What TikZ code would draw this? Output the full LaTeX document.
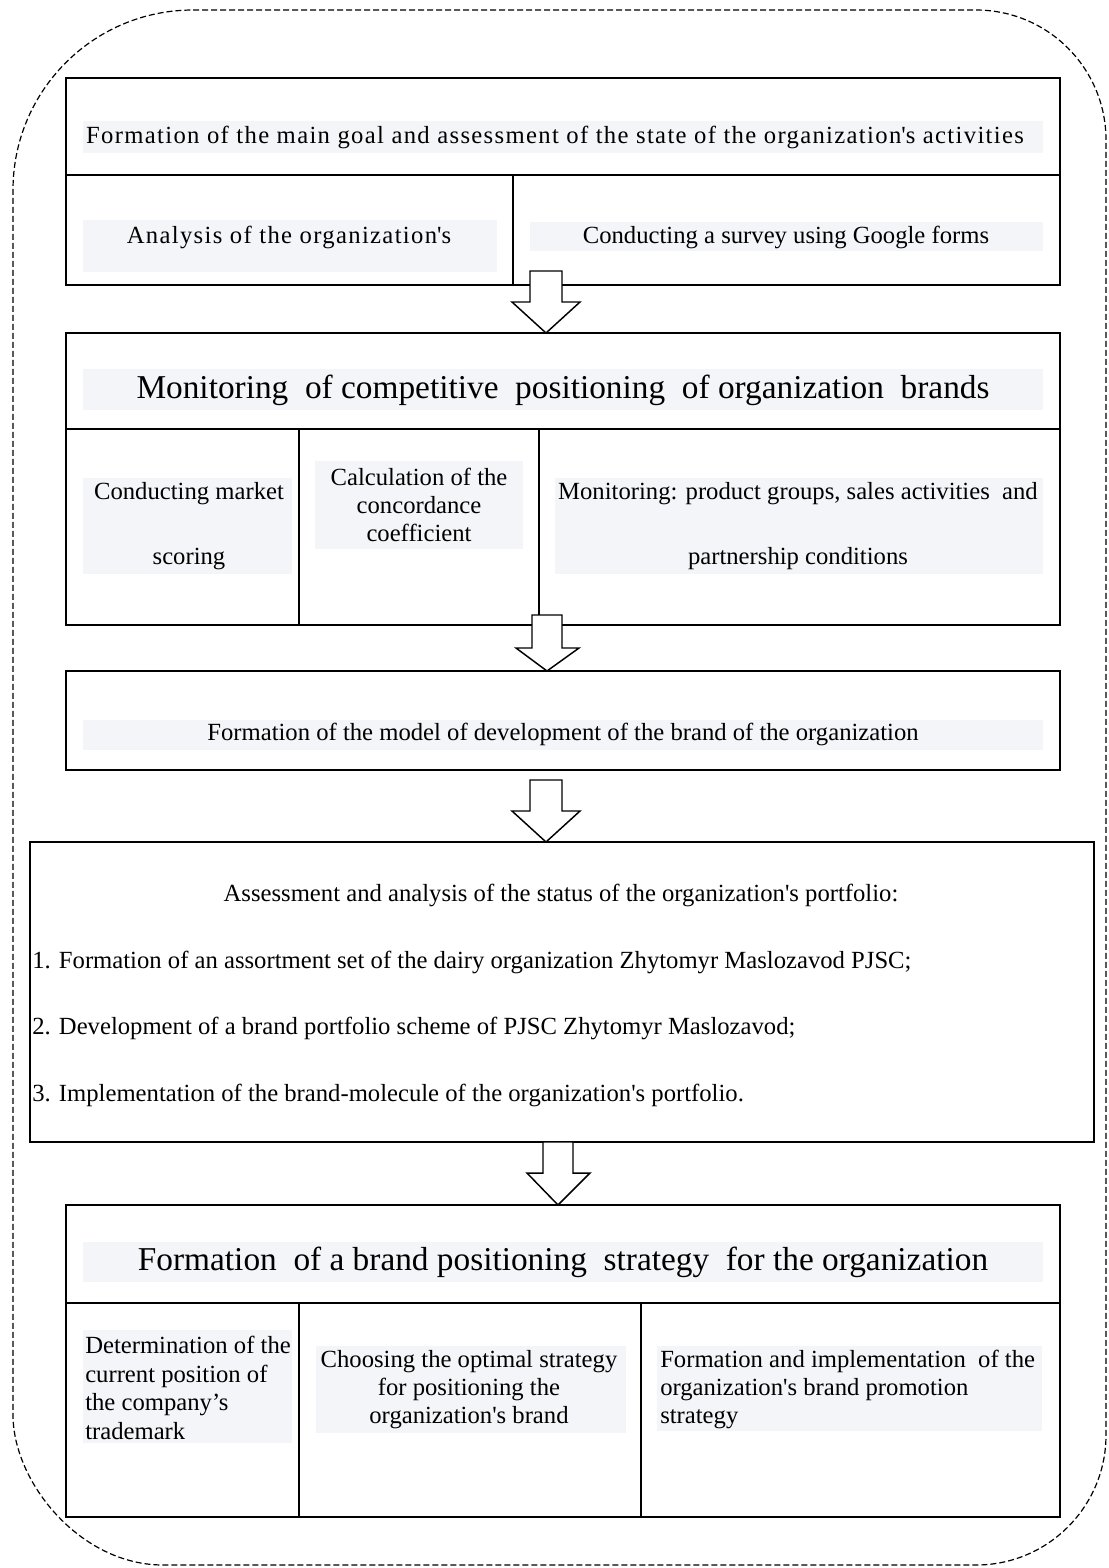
\documentclass[tikz,border=0pt]{standalone}
\usepackage{fontspec}
\setmainfont{Liberation Serif}
\usepackage{tikz}

\definecolor{shadegray}{RGB}{243,245,248}
\newcommand{\apos}{\textquotesingle}

\begin{document}
\begin{tikzpicture}[x=0.75pt,y=0.75pt,yscale=-1,xscale=1,
  box/.style={line width=1.1pt},
  shd/.style={fill=shadegray,draw=none},
  txt/.style={inner sep=0.75pt,font=\fontsize{18.5}{21.5}\selectfont},
  widetxt/.style={inner sep=0.75pt,font=\fontsize{18.5}{21.5}\selectfont\addfontfeatures{LetterSpace=5.4}},
  ttl/.style={inner sep=0.75pt,font=\fontsize{25}{30}\selectfont},
  downarrow/.style={draw,fill=white,line width=1.1pt,line join=miter}]
\useasboundingbox (0,0) rectangle (1109,1568);

%Dashed frame
\draw [line width=0.9pt,dash pattern={on 4.5pt off 2.25pt}]
  (193,10) -- (976,10) .. controls (1047.8,10) and (1106,68.2) .. (1106,140)
  -- (1106,1435) .. controls (1106,1506.8) and (1047.8,1565) .. (976,1565)
  -- (163,1565) .. controls (80.2,1565) and (13,1482.2) .. (13,1415)
  -- (13,190) .. controls (13,90.6) and (93.6,10) .. cycle ;

%Shading behind texts
\draw [shd] (83,121) rectangle (1043,153) ;
\draw [shd] (83,220) rectangle (497,272) ;
\draw [shd] (530,222) rectangle (1043,251) ;
\draw [shd] (83,369) rectangle (1043,410) ;
\draw [shd] (83,478) rectangle (292,574) ;
\draw [shd] (315,461) rectangle (523,549) ;
\draw [shd] (555,478) rectangle (1043,574) ;
\draw [shd] (83,720) rectangle (1043,750) ;
\draw [shd] (83,1242) rectangle (1043,1282) ;
\draw [shd] (83,1330) rectangle (292,1443) ;
\draw [shd] (316,1346) rectangle (626,1433) ;
\draw [shd] (657,1346) rectangle (1042,1431) ;

%Shape: Rectangle (goal and assessment)
\draw [box] (66,78) rectangle (1060,285) ;
\draw [box] (66,175) -- (1060,175) ;
\draw [box] (513,175) -- (513,285) ;

%Shape: Rectangle (monitoring)
\draw [box] (66,333) rectangle (1060,625) ;
\draw [box] (66,429) -- (1060,429) ;
\draw [box] (299,429) -- (299,625) ;
\draw [box] (539,429) -- (539,615) ;

%Shape: Rectangle (model)
\draw [box] (66,671) rectangle (1060,770) ;

%Shape: Rectangle (portfolio)
\draw [box] (30,842) rectangle (1094,1142) ;

%Shape: Rectangle (positioning strategy)
\draw [box] (66,1205) rectangle (1060,1517) ;
\draw [line width=2pt] (66,1303) -- (1060,1303) ;
\draw [box] (299,1303) -- (299,1517) ;
\draw [box] (641,1303) -- (641,1517) ;

%Down Arrow
\draw [downarrow] (530,271) -- (562,271) -- (562,302) -- (580,302) -- (546,333) -- (512,302) -- (530,302) -- cycle ;
%Down Arrow
\draw [downarrow] (532,615) -- (562,615) -- (562,648) -- (579,648) -- (547,671) -- (516,648) -- (532,648) -- cycle ;
%Down Arrow
\draw [downarrow] (530,780) -- (562,780) -- (562,811) -- (580,811) -- (546,842) -- (512,811) -- (530,811) -- cycle ;
%Down Arrow
\draw [downarrow] (543,1142) -- (573,1142) -- (573,1173) -- (590,1173) -- (558,1205) -- (527,1173) -- (543,1173) -- cycle ;

% Text Node
\draw (555,137) node [widetxt] (goal) {Formation of the main goal and assessment of the state of the organization\apos s activities};
% Text Node
\draw (289,237) node [widetxt] (analysis) {Analysis of the organization\apos s};
% Text Node
\draw (786,237) node [txt] (survey) {Conducting a survey using Google forms};

% Text Node
\draw (563,390) node [ttl] (monitoring) {Monitoring\ \ of competitive\ \ positioning\ \ of organization\ \ brands};
% Text Node
\draw (189,526) node [txt,align=center] (scoring) {Conducting market\\[27pt]scoring};
% Text Node
\draw (419,505) node [txt,align=center,font=\fontsize{18.5}{21}\selectfont] (concord) {Calculation of the\\concordance\\coefficient};
% Text Node
\draw (798,526) node [txt,align=center] (groups) {Monitoring: product groups, sales activities\ \ and\\[27pt]partnership conditions};

% Text Node
\draw (563,734) node [txt] (model) {Formation of the model of development of the brand of the organization};

% Text Node
\draw (561,895) node [txt] (portfolio) {Assessment and analysis of the status of the organization\apos s portfolio:};
% Text Node
\draw (31,962) node [txt,anchor=west] (item1) {1. Formation of an assortment set of the dairy organization Zhytomyr Maslozavod PJSC;};
% Text Node
\draw (31,1028) node [txt,anchor=west] (item2) {2. Development of a brand portfolio scheme of PJSC Zhytomyr Maslozavod;};
% Text Node
\draw (31,1095) node [txt,anchor=west] (item3) {3. Implementation of the brand-molecule of the organization\apos s portfolio.};

% Text Node
\draw (563,1262) node [ttl] (strategy) {Formation\ \ of a brand positioning\ \ strategy\ \ for the organization};
% Text Node
\draw (84,1388) node [txt,anchor=west,align=left,font=\fontsize{18.5}{21.4}\selectfont] (current) {Determination of the\\current position of\\the company's\\trademark};
% Text Node
\draw (469,1390) node [txt,align=center,font=\fontsize{18.5}{21}\selectfont] (optimal) {Choosing the optimal strategy\\for positioning the\\organization\apos s brand};
% Text Node
\draw (659,1389) node [txt,anchor=west,align=left,font=\fontsize{18.5}{21}\selectfont] (promotion) {Formation and implementation\ \ of the\\organization\apos s brand promotion\\strategy};

\end{tikzpicture}
\end{document}
